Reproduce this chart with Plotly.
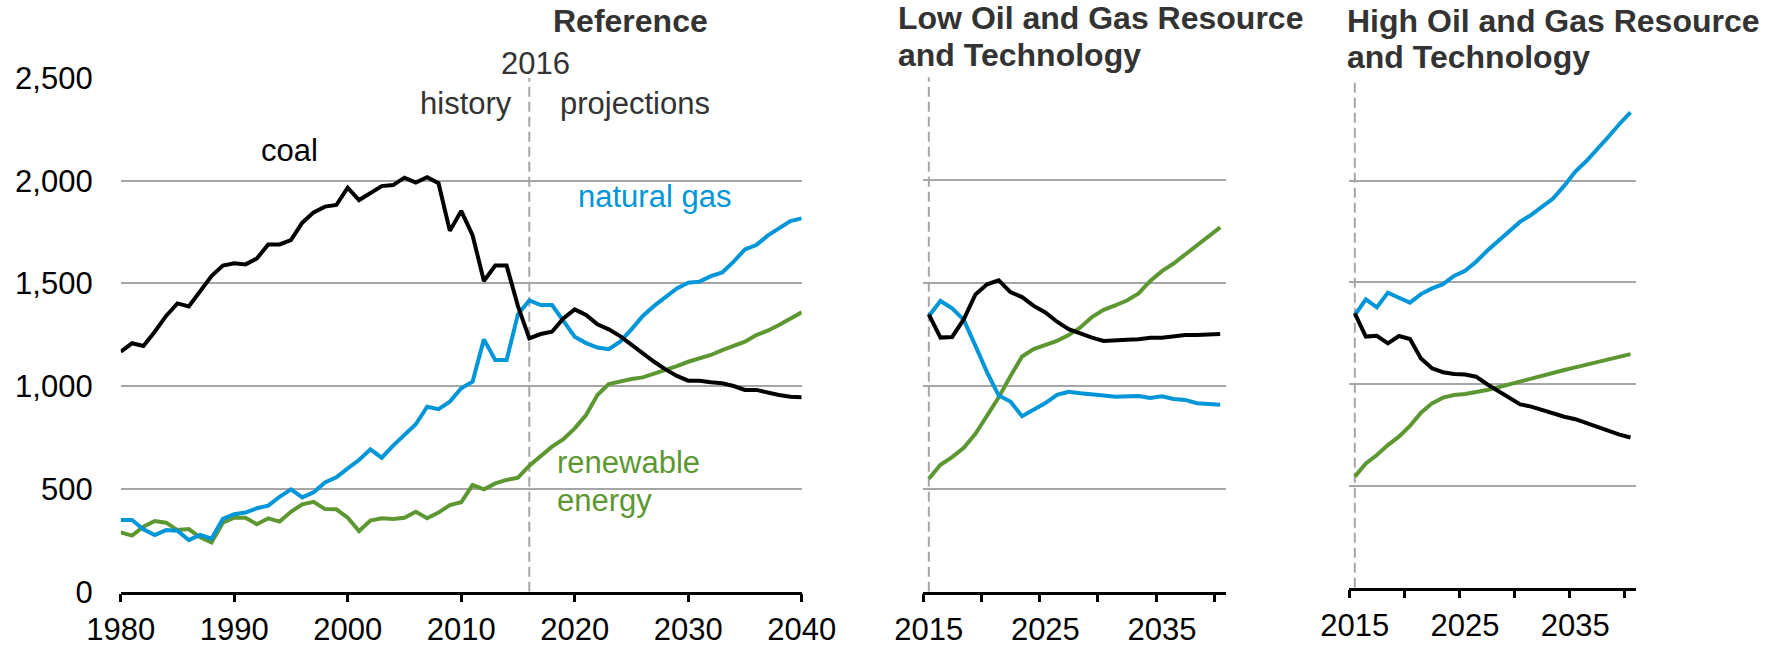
import plotly.graph_objects as go

# U.S. electricity generation by fuel (billion kilowatthours)
years_ref = list(range(1980, 2041))
coal_ref = [1168, 1209, 1196, 1265, 1342, 1403, 1388, 1460, 1536, 1587,
            1598, 1593, 1622, 1690, 1690, 1711, 1796, 1846, 1874, 1882,
            1966, 1906, 1939, 1974, 1979, 2015, 1991, 2017, 1988, 1756,
            1853, 1735, 1512, 1587, 1587, 1390, 1233, 1254, 1265, 1330,
            1374, 1347, 1301, 1277, 1244, 1201, 1160, 1119, 1082, 1050,
            1027, 1027, 1019, 1014, 1001, 982, 982, 968, 957, 949,
            946]
gas_ref = [349, 349, 304, 276, 300, 297, 251, 276, 258, 354,
           377, 385, 406, 419, 462, 498, 459, 484, 532, 557,
           600, 641, 693, 652, 711, 763, 815, 900, 888, 925,
           990, 1022, 1228, 1128, 1128, 1350, 1418, 1395, 1395, 1318,
           1241, 1210, 1188, 1180, 1217, 1277, 1342, 1391, 1436, 1476,
           1504, 1509, 1536, 1554, 1606, 1666, 1687, 1733, 1768, 1804,
           1817]
ren_ref = [289, 273, 316, 344, 336, 300, 305, 265, 240, 336,
           360, 360, 328, 357, 341, 389, 425, 437, 402, 401,
           360, 295, 346, 357, 354, 360, 389, 357, 385, 422,
           435, 519, 498, 527, 544, 555, 613, 657, 706, 742,
           795, 860, 957, 1011, 1025, 1035, 1043, 1060, 1076, 1098,
           1119, 1136, 1152, 1176, 1197, 1217, 1249, 1270, 1298, 1330,
           1360]

years_side = list(range(2015, 2041))
coal_low = [1348, 1235, 1238, 1324, 1445, 1494, 1513, 1456, 1432, 1389,
            1357, 1312, 1276, 1255, 1235, 1219, 1224, 1225, 1227, 1234,
            1234, 1242, 1247, 1247, 1250, 1253]
gas_low = [1340, 1413, 1377, 1321, 1195, 1066, 953, 924, 853, 883,
           917, 957, 972, 964, 957, 954, 948, 951, 951, 941,
           950, 937, 932, 916, 914, 909]
ren_low = [549, 617, 654, 699, 767, 856, 945, 1047, 1143, 1179,
           1198, 1219, 1247, 1284, 1335, 1370, 1392, 1415, 1450, 1510,
           1558, 1595, 1639, 1683, 1728, 1771]

coal_high = [1348, 1234, 1238, 1201, 1237, 1222, 1127, 1078, 1059, 1050,
             1048, 1037, 1000, 967, 934, 901, 890, 873, 857, 840,
             828, 808, 791, 770, 752, 738]
gas_high = [1340, 1417, 1378, 1450, 1425, 1401, 1443, 1471, 1492, 1532,
            1558, 1602, 1656, 1705, 1750, 1799, 1832, 1872, 1914, 1976,
            2045, 2097, 2154, 2216, 2279, 2336]
ren_high = [546, 611, 652, 701, 742, 795, 860, 906, 934, 947,
            952, 960, 972, 985, 1000, 1012, 1026, 1040, 1057, 1070,
            1083, 1096, 1110, 1122, 1135, 1148]

y_ticks = [0, 500, 1000, 1500, 2000, 2500]
ref_x_ticks = [1980, 1990, 2000, 2010, 2020, 2030, 2040]
side_tick_marks = [2014.5, 2019.5, 2024.5, 2029.5, 2034.5, 2039.5]
side_tick_labels = [2015, 2025, 2035]
ref_history_end = 2016
side_first_year = 2015

COAL = "#000000"
GAS = "#0096D7"
REN = "#5D9732"
GRID = "#A6A6A6"
TEXT = "#333333"
FONT = "Liberation Sans, Arial, sans-serif"
W, H = 1767, 646


def px(x):
    return x / W


def py(y):
    return 1 - y / H


fig = go.Figure()

panels = [
    ("x", "y", years_ref, coal_ref, gas_ref, ren_ref),
    ("x2", "y2", years_side, coal_low, gas_low, ren_low),
    ("x3", "y3", years_side, coal_high, gas_high, ren_high),
]
for xa, ya, yrs, coal, gas, ren in panels:
    for vals, col in ((ren, REN), (gas, GAS), (coal, COAL)):
        fig.add_trace(go.Scatter(x=yrs, y=vals, mode="lines", xaxis=xa, yaxis=ya,
                                 line=dict(color=col, width=4),
                                 showlegend=False, hoverinfo="skip"))

axis_line = dict(showline=True, linecolor="black", linewidth=2.5, ticks="outside",
                 ticklen=8, tickwidth=2.5, tickcolor="black", showgrid=False,
                 zeroline=False, fixedrange=True, automargin=False,
                 tickfont=dict(size=31, color="black"))
# scenario panels: labels sit on the year, tick marks on the boundaries between years
side_axis = dict(axis_line, range=[2014.5, 2040.5], tickvals=side_tick_labels,
                 tickcolor="rgba(0,0,0,0)",
                 minor=dict(tickvals=side_tick_marks, ticks="outside", ticklen=8,
                            tickwidth=2.5, tickcolor="black", showgrid=False))
y_common = dict(range=[0, 2500], tickvals=y_ticks, showgrid=True, gridcolor=GRID,
                gridwidth=1.6, zeroline=False, showline=False, ticks="",
                fixedrange=True, automargin=False)

fig.update_layout(
    width=W, height=H, autosize=False,
    margin=dict(l=0, r=0, t=0, b=0, pad=0, autoexpand=False),
    paper_bgcolor="white", plot_bgcolor="white",
    font=dict(family=FONT, size=31, color="black"),
    xaxis=dict(domain=[px(120.7), px(801.7)], range=[1980, 2040], tickvals=ref_x_ticks,
               anchor="y", **axis_line),
    yaxis=dict(domain=[py(591.7), py(78)], anchor="x", tickformat=",",
               tickfont=dict(size=31, color="black"), ticklabelstandoff=27, **y_common),
    xaxis2=dict(domain=[px(923), px(1226)], anchor="y2", **side_axis),
    yaxis2=dict(domain=[py(591.7), py(77.3)], anchor="x2", showticklabels=False, **y_common),
    xaxis3=dict(domain=[px(1349.3), px(1636)], anchor="y3", **side_axis),
    yaxis3=dict(domain=[py(587.7), py(79)], anchor="x3", showticklabels=False, **y_common),
)

# history / projections dividers
for xa, ya, xv in (("x", "y", ref_history_end), ("x2", "y2", side_first_year),
                   ("x3", "y3", side_first_year)):
    fig.add_shape(type="line", xref=xa, yref=ya, x0=xv, x1=xv, y0=0, y1=2500,
                  line=dict(color=GRID, width=2, dash="10px,5px"), layer="below")

annotations = []


def note(text, x, y, color, size=31, bold=False, xanchor="center"):
    if bold:
        text = "<b>" + text + "</b>"
    annotations.append(dict(xref="paper", yref="paper", x=px(x), y=py(y), text=text,
                            showarrow=False, xanchor=xanchor, yanchor="middle",
                            borderpad=0, font=dict(size=size, color=color, family=FONT)))


note("Reference", 630, 21, TEXT, size=32, bold=True)
note("Low Oil and Gas Resource", 897, 18, TEXT, size=32, bold=True, xanchor="left")
note("and Technology", 897, 55, TEXT, size=32, bold=True, xanchor="left")
note("High Oil and Gas Resource", 1346, 21, TEXT, size=32, bold=True, xanchor="left")
note("and Technology", 1346, 57, TEXT, size=32, bold=True, xanchor="left")

note("2016", 535, 63, TEXT)
note("history", 466, 103, TEXT)
note("projections", 635, 103, TEXT)
note("coal", 289, 150, COAL)
note("natural gas", 654, 197, GAS)
note("renewable", 556, 462, REN, xanchor="left")
note("energy", 556, 500, REN, xanchor="left")

fig.update_layout(annotations=annotations)

fig.write_html("out.html")
